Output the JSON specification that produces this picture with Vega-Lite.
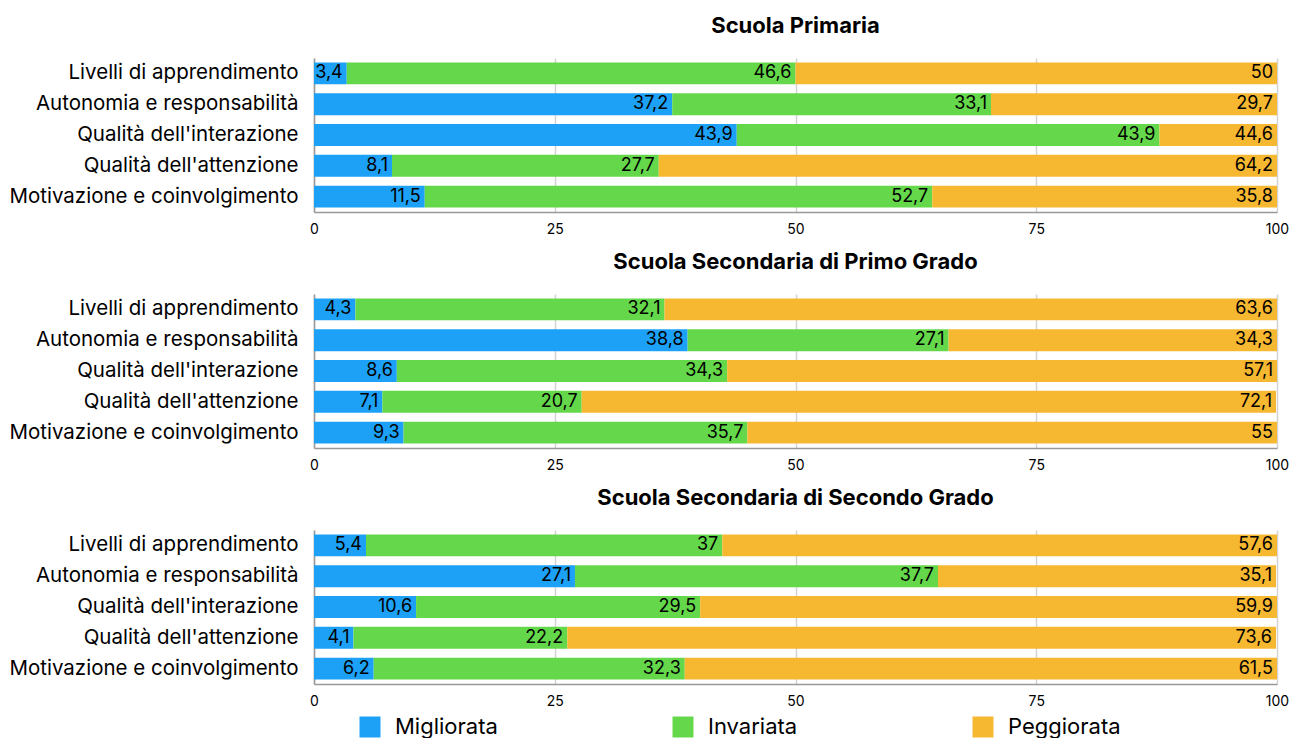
{
  "$schema": "https://vega.github.io/schema/vega-lite/v6.json",
  "padding": {"left": 0, "top": 15, "right": 10, "bottom": 0},
  "background": "white",
  "spacing": 15,
  "data": {
    "values": [
      {"scuola": "Scuola Primaria", "aspetto": "Livelli di apprendimento", "stato": "Migliorata", "valore": 3.4},
      {"scuola": "Scuola Primaria", "aspetto": "Livelli di apprendimento", "stato": "Invariata", "valore": 46.6},
      {"scuola": "Scuola Primaria", "aspetto": "Livelli di apprendimento", "stato": "Peggiorata", "valore": 50},
      {"scuola": "Scuola Primaria", "aspetto": "Autonomia e responsabilità", "stato": "Migliorata", "valore": 37.2},
      {"scuola": "Scuola Primaria", "aspetto": "Autonomia e responsabilità", "stato": "Invariata", "valore": 33.1},
      {"scuola": "Scuola Primaria", "aspetto": "Autonomia e responsabilità", "stato": "Peggiorata", "valore": 29.7},
      {"scuola": "Scuola Primaria", "aspetto": "Qualità dell'interazione", "stato": "Migliorata", "valore": 43.9},
      {"scuola": "Scuola Primaria", "aspetto": "Qualità dell'interazione", "stato": "Invariata", "valore": 43.9},
      {"scuola": "Scuola Primaria", "aspetto": "Qualità dell'interazione", "stato": "Peggiorata", "valore": 44.6},
      {"scuola": "Scuola Primaria", "aspetto": "Qualità dell'attenzione", "stato": "Migliorata", "valore": 8.1},
      {"scuola": "Scuola Primaria", "aspetto": "Qualità dell'attenzione", "stato": "Invariata", "valore": 27.7},
      {"scuola": "Scuola Primaria", "aspetto": "Qualità dell'attenzione", "stato": "Peggiorata", "valore": 64.2},
      {"scuola": "Scuola Primaria", "aspetto": "Motivazione e coinvolgimento", "stato": "Migliorata", "valore": 11.5},
      {"scuola": "Scuola Primaria", "aspetto": "Motivazione e coinvolgimento", "stato": "Invariata", "valore": 52.7},
      {"scuola": "Scuola Primaria", "aspetto": "Motivazione e coinvolgimento", "stato": "Peggiorata", "valore": 35.8},

      {"scuola": "Scuola Secondaria di Primo Grado", "aspetto": "Livelli di apprendimento", "stato": "Migliorata", "valore": 4.3},
      {"scuola": "Scuola Secondaria di Primo Grado", "aspetto": "Livelli di apprendimento", "stato": "Invariata", "valore": 32.1},
      {"scuola": "Scuola Secondaria di Primo Grado", "aspetto": "Livelli di apprendimento", "stato": "Peggiorata", "valore": 63.6},
      {"scuola": "Scuola Secondaria di Primo Grado", "aspetto": "Autonomia e responsabilità", "stato": "Migliorata", "valore": 38.8},
      {"scuola": "Scuola Secondaria di Primo Grado", "aspetto": "Autonomia e responsabilità", "stato": "Invariata", "valore": 27.1},
      {"scuola": "Scuola Secondaria di Primo Grado", "aspetto": "Autonomia e responsabilità", "stato": "Peggiorata", "valore": 34.3},
      {"scuola": "Scuola Secondaria di Primo Grado", "aspetto": "Qualità dell'interazione", "stato": "Migliorata", "valore": 8.6},
      {"scuola": "Scuola Secondaria di Primo Grado", "aspetto": "Qualità dell'interazione", "stato": "Invariata", "valore": 34.3},
      {"scuola": "Scuola Secondaria di Primo Grado", "aspetto": "Qualità dell'interazione", "stato": "Peggiorata", "valore": 57.1},
      {"scuola": "Scuola Secondaria di Primo Grado", "aspetto": "Qualità dell'attenzione", "stato": "Migliorata", "valore": 7.1},
      {"scuola": "Scuola Secondaria di Primo Grado", "aspetto": "Qualità dell'attenzione", "stato": "Invariata", "valore": 20.7},
      {"scuola": "Scuola Secondaria di Primo Grado", "aspetto": "Qualità dell'attenzione", "stato": "Peggiorata", "valore": 72.1},
      {"scuola": "Scuola Secondaria di Primo Grado", "aspetto": "Motivazione e coinvolgimento", "stato": "Migliorata", "valore": 9.3},
      {"scuola": "Scuola Secondaria di Primo Grado", "aspetto": "Motivazione e coinvolgimento", "stato": "Invariata", "valore": 35.7},
      {"scuola": "Scuola Secondaria di Primo Grado", "aspetto": "Motivazione e coinvolgimento", "stato": "Peggiorata", "valore": 55},

      {"scuola": "Scuola Secondaria di Secondo Grado", "aspetto": "Livelli di apprendimento", "stato": "Migliorata", "valore": 5.4},
      {"scuola": "Scuola Secondaria di Secondo Grado", "aspetto": "Livelli di apprendimento", "stato": "Invariata", "valore": 37},
      {"scuola": "Scuola Secondaria di Secondo Grado", "aspetto": "Livelli di apprendimento", "stato": "Peggiorata", "valore": 57.6},
      {"scuola": "Scuola Secondaria di Secondo Grado", "aspetto": "Autonomia e responsabilità", "stato": "Migliorata", "valore": 27.1},
      {"scuola": "Scuola Secondaria di Secondo Grado", "aspetto": "Autonomia e responsabilità", "stato": "Invariata", "valore": 37.7},
      {"scuola": "Scuola Secondaria di Secondo Grado", "aspetto": "Autonomia e responsabilità", "stato": "Peggiorata", "valore": 35.1},
      {"scuola": "Scuola Secondaria di Secondo Grado", "aspetto": "Qualità dell'interazione", "stato": "Migliorata", "valore": 10.6},
      {"scuola": "Scuola Secondaria di Secondo Grado", "aspetto": "Qualità dell'interazione", "stato": "Invariata", "valore": 29.5},
      {"scuola": "Scuola Secondaria di Secondo Grado", "aspetto": "Qualità dell'interazione", "stato": "Peggiorata", "valore": 59.9},
      {"scuola": "Scuola Secondaria di Secondo Grado", "aspetto": "Qualità dell'attenzione", "stato": "Migliorata", "valore": 4.1},
      {"scuola": "Scuola Secondaria di Secondo Grado", "aspetto": "Qualità dell'attenzione", "stato": "Invariata", "valore": 22.2},
      {"scuola": "Scuola Secondaria di Secondo Grado", "aspetto": "Qualità dell'attenzione", "stato": "Peggiorata", "valore": 73.6},
      {"scuola": "Scuola Secondaria di Secondo Grado", "aspetto": "Motivazione e coinvolgimento", "stato": "Migliorata", "valore": 6.2},
      {"scuola": "Scuola Secondaria di Secondo Grado", "aspetto": "Motivazione e coinvolgimento", "stato": "Invariata", "valore": 32.3},
      {"scuola": "Scuola Secondaria di Secondo Grado", "aspetto": "Motivazione e coinvolgimento", "stato": "Peggiorata", "valore": 61.5}
    ]
  },
  "vconcat": [
    {
      "title": "Scuola Primaria",
      "width": 963,
      "height": 154,
      "transform": [
        {"filter": "datum.scuola === 'Scuola Primaria'"},
        {"calculate": "indexof(['Migliorata','Invariata','Peggiorata'], datum.stato)", "as": "ordine"},
        {"stack": "valore", "groupby": ["aspetto"], "sort": [{"field": "ordine"}], "as": ["inizio", "fine"]},
        {"calculate": "min(datum.fine, 100)", "as": "fineVisibile"}
      ],
      "encoding": {
        "y": {
          "field": "aspetto", "type": "nominal",
          "sort": ["Livelli di apprendimento", "Autonomia e responsabilità", "Qualità dell'interazione", "Qualità dell'attenzione", "Motivazione e coinvolgimento"],
          "scale": {"paddingInner": 0.29, "paddingOuter": 0.145},
          "axis": {"title": null, "ticks": false, "grid": false, "labelFontSize": 20.5, "labelColor": "#000", "labelPadding": 16, "minExtent": 314, "maxExtent": 314, "domainColor": "#999", "domainWidth": 1.5, "labelLimit": 400}
        }
      },
      "layer": [
        {
          "mark": {"type": "bar", "clip": true},
          "encoding": {
            "x": {"field": "inizio", "type": "quantitative", "scale": {"domain": [0, 100], "nice": false},
              "axis": {"title": null, "values": [0, 25, 50, 75, 100], "ticks": false, "grid": true, "gridColor": "#d3d3d3", "gridWidth": 1.5, "labelFontSize": 14, "labelColor": "#000", "labelPadding": 10, "labelFlush": false, "domainColor": "#999", "domainWidth": 1.5, "format": "d"}},
            "x2": {"field": "fine"},
            "color": {
              "field": "stato", "type": "nominal",
              "scale": {"domain": ["Migliorata", "Invariata", "Peggiorata"], "range": ["#1CA1F7", "#64D84A", "#F6B731"]},
              "legend": {"orient": "none", "legendX": 45, "legendY": 658, "direction": "horizontal", "title": null, "symbolType": "square", "symbolSize": 441, "symbolStrokeWidth": 0, "symbolOpacity": 1, "labelFontSize": 22, "labelColor": "#000", "labelOffset": 14, "columnPadding": 174, "gridAlign": "each", "labelLimit": 300}
            }
          }
        },
        {
          "mark": {"type": "text", "align": "right", "baseline": "middle", "dx": -4, "fontSize": 18, "color": "#000"},
          "encoding": {
            "x": {"field": "fineVisibile", "type": "quantitative"},
            "text": {"field": "valore", "type": "quantitative", "format": "~g"}
          }
        }
      ]
    },
    {
      "title": "Scuola Secondaria di Primo Grado",
      "width": 963,
      "height": 154,
      "transform": [
        {"filter": "datum.scuola === 'Scuola Secondaria di Primo Grado'"},
        {"calculate": "indexof(['Migliorata','Invariata','Peggiorata'], datum.stato)", "as": "ordine"},
        {"stack": "valore", "groupby": ["aspetto"], "sort": [{"field": "ordine"}], "as": ["inizio", "fine"]},
        {"calculate": "min(datum.fine, 100)", "as": "fineVisibile"}
      ],
      "encoding": {
        "y": {
          "field": "aspetto", "type": "nominal",
          "sort": ["Livelli di apprendimento", "Autonomia e responsabilità", "Qualità dell'interazione", "Qualità dell'attenzione", "Motivazione e coinvolgimento"],
          "scale": {"paddingInner": 0.29, "paddingOuter": 0.145},
          "axis": {"title": null, "ticks": false, "grid": false, "labelFontSize": 20.5, "labelColor": "#000", "labelPadding": 16, "minExtent": 314, "maxExtent": 314, "domainColor": "#999", "domainWidth": 1.5, "labelLimit": 400}
        }
      },
      "layer": [
        {
          "mark": {"type": "bar", "clip": true},
          "encoding": {
            "x": {"field": "inizio", "type": "quantitative", "scale": {"domain": [0, 100], "nice": false},
              "axis": {"title": null, "values": [0, 25, 50, 75, 100], "ticks": false, "grid": true, "gridColor": "#d3d3d3", "gridWidth": 1.5, "labelFontSize": 14, "labelColor": "#000", "labelPadding": 10, "labelFlush": false, "domainColor": "#999", "domainWidth": 1.5, "format": "d"}},
            "x2": {"field": "fine"},
            "color": {
              "field": "stato", "type": "nominal",
              "scale": {"domain": ["Migliorata", "Invariata", "Peggiorata"], "range": ["#1CA1F7", "#64D84A", "#F6B731"]},
              "legend": {"orient": "none", "legendX": 45, "legendY": 658, "direction": "horizontal", "title": null, "symbolType": "square", "symbolSize": 441, "symbolStrokeWidth": 0, "symbolOpacity": 1, "labelFontSize": 22, "labelColor": "#000", "labelOffset": 14, "columnPadding": 174, "gridAlign": "each", "labelLimit": 300}
            }
          }
        },
        {
          "mark": {"type": "text", "align": "right", "baseline": "middle", "dx": -4, "fontSize": 18, "color": "#000"},
          "encoding": {
            "x": {"field": "fineVisibile", "type": "quantitative"},
            "text": {"field": "valore", "type": "quantitative", "format": "~g"}
          }
        }
      ]
    },
    {
      "title": "Scuola Secondaria di Secondo Grado",
      "width": 963,
      "height": 154,
      "transform": [
        {"filter": "datum.scuola === 'Scuola Secondaria di Secondo Grado'"},
        {"calculate": "indexof(['Migliorata','Invariata','Peggiorata'], datum.stato)", "as": "ordine"},
        {"stack": "valore", "groupby": ["aspetto"], "sort": [{"field": "ordine"}], "as": ["inizio", "fine"]},
        {"calculate": "min(datum.fine, 100)", "as": "fineVisibile"}
      ],
      "encoding": {
        "y": {
          "field": "aspetto", "type": "nominal",
          "sort": ["Livelli di apprendimento", "Autonomia e responsabilità", "Qualità dell'interazione", "Qualità dell'attenzione", "Motivazione e coinvolgimento"],
          "scale": {"paddingInner": 0.29, "paddingOuter": 0.145},
          "axis": {"title": null, "ticks": false, "grid": false, "labelFontSize": 20.5, "labelColor": "#000", "labelPadding": 16, "minExtent": 314, "maxExtent": 314, "domainColor": "#999", "domainWidth": 1.5, "labelLimit": 400}
        }
      },
      "layer": [
        {
          "mark": {"type": "bar", "clip": true},
          "encoding": {
            "x": {"field": "inizio", "type": "quantitative", "scale": {"domain": [0, 100], "nice": false},
              "axis": {"title": null, "values": [0, 25, 50, 75, 100], "ticks": false, "grid": true, "gridColor": "#d3d3d3", "gridWidth": 1.5, "labelFontSize": 14, "labelColor": "#000", "labelPadding": 10, "labelFlush": false, "domainColor": "#999", "domainWidth": 1.5, "format": "d"}},
            "x2": {"field": "fine"},
            "color": {
              "field": "stato", "type": "nominal",
              "scale": {"domain": ["Migliorata", "Invariata", "Peggiorata"], "range": ["#1CA1F7", "#64D84A", "#F6B731"]},
              "legend": {"orient": "none", "legendX": 45, "legendY": 658, "direction": "horizontal", "title": null, "symbolType": "square", "symbolSize": 441, "symbolStrokeWidth": 0, "symbolOpacity": 1, "labelFontSize": 22, "labelColor": "#000", "labelOffset": 14, "columnPadding": 174, "gridAlign": "each", "labelLimit": 300}
            }
          }
        },
        {
          "mark": {"type": "text", "align": "right", "baseline": "middle", "dx": -4, "fontSize": 18, "color": "#000"},
          "encoding": {
            "x": {"field": "fineVisibile", "type": "quantitative"},
            "text": {"field": "valore", "type": "quantitative", "format": "~g"}
          }
        }
      ]
    }
  ],
  "resolve": {"scale": {"color": "shared"}, "legend": {"color": "shared"}},
  "config": {
    "font": "Inter",
    "locale": {"number": {"decimal": ",", "thousands": ".", "grouping": [3], "currency": ["", " €"]}},
    "view": {"stroke": null},
    "title": {"fontSize": 22, "fontWeight": "bold", "color": "#000", "anchor": "middle", "offset": 20, "font": "Inter"}
  }
}
